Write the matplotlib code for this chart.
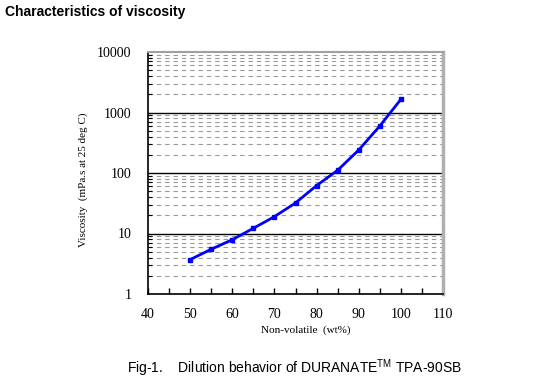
import matplotlib
matplotlib.use("Agg")
import matplotlib.pyplot as plt
import numpy as np
from matplotlib.ticker import FixedLocator, NullFormatter

nonvolatile = [50, 55, 60, 65, 70, 75, 80, 85, 90, 95, 100]
viscosity = [3.7, 5.5, 7.9, 12.2, 19, 32, 62, 111, 240, 598, 1650]
x_ticks = [40, 50, 60, 70, 80, 90, 100, 110]
y_ticks = [1, 10, 100, 1000, 10000]
y_tick_labels = ["1", "10", "100", "1000", "10000"]

fig = plt.figure(figsize=(5.56, 3.79), dpi=100)
ax = fig.add_axes([148/556, 1-294/379, (443-148)/556, (294-52)/379])

ax.set_yscale("log")
ax.set_xlim(40, 110)
ax.set_ylim(1, 10000)

# grid
for dec in [10, 100, 1000]:
    ax.axhline(dec, color="black", lw=1.0, zorder=1)
minor_vals = [m * d for d in [1, 10, 100, 1000] for m in range(2, 10)]
for v in minor_vals:
    ax.axhline(v, color="#9a9a9a", lw=0.8, ls=(0, (4, 3.5)), zorder=1)

ax.plot(nonvolatile, viscosity, color="#0000ff", lw=2, marker="s", ms=2.2, zorder=3)

ax.set_xticks(x_ticks)
ax.set_xticks(np.arange(45, 110, 5), minor=True)
ax.set_yticks(y_ticks)
ax.set_yticklabels(y_tick_labels)
ax.yaxis.set_minor_locator(FixedLocator(minor_vals))
ax.yaxis.set_minor_formatter(NullFormatter())

serif = ["Liberation Serif", "DejaVu Serif"]
for lbl in ax.get_xticklabels() + ax.get_yticklabels():
    lbl.set_fontfamily(serif)
    lbl.set_fontsize(10)

ax.tick_params(axis="both", which="both", direction="in", color="black")
ax.tick_params(axis="x", which="major", length=4, width=1, pad=10)
ax.tick_params(axis="x", which="minor", length=4, width=1)
ax.tick_params(axis="y", which="major", length=0, pad=12)
ax.tick_params(axis="y", which="minor", length=3, width=0.8)

ax.spines["left"].set_color("black")
ax.spines["left"].set_linewidth(1.2)
ax.spines["bottom"].set_color("black")
ax.spines["bottom"].set_linewidth(1.2)
ax.spines["top"].set_color("#a0a0a0")
ax.spines["top"].set_linewidth(1.5)
ax.spines["right"].set_color("#b0b0b0")
ax.spines["right"].set_linewidth(2.5)

ax.set_xlabel("Non-volatile  (wt%)", fontfamily=serif, fontsize=8)
ax.set_ylabel("Viscosity  (mPa.s at 25 deg C)", fontfamily=serif, fontsize=8)
# label positions in axes coordinates
ax.xaxis.set_label_coords((306-148)/(443-148), -(330-294)/(294-52))
ax.yaxis.set_label_coords(-(148-83)/(443-148), (294-180)/(294-52))
ax.xaxis.label.set_va("center")
ax.yaxis.label.set_va("center")

fig.text(5/556, 1-12/379, "Characteristics of viscosity", fontfamily=["Liberation Sans", "DejaVu Sans"],
         fontweight="bold", fontsize=10, va="center", ha="left")
fig.text(295/556, 1-368/379, r"Fig-1.    Dilution behavior of DURANATE$^{\mathregular{TM}}$ TPA-90SB",
         fontfamily=["Liberation Sans", "DejaVu Sans"], fontsize=10, va="center", ha="center")

fig.savefig("out.png", dpi=100)
